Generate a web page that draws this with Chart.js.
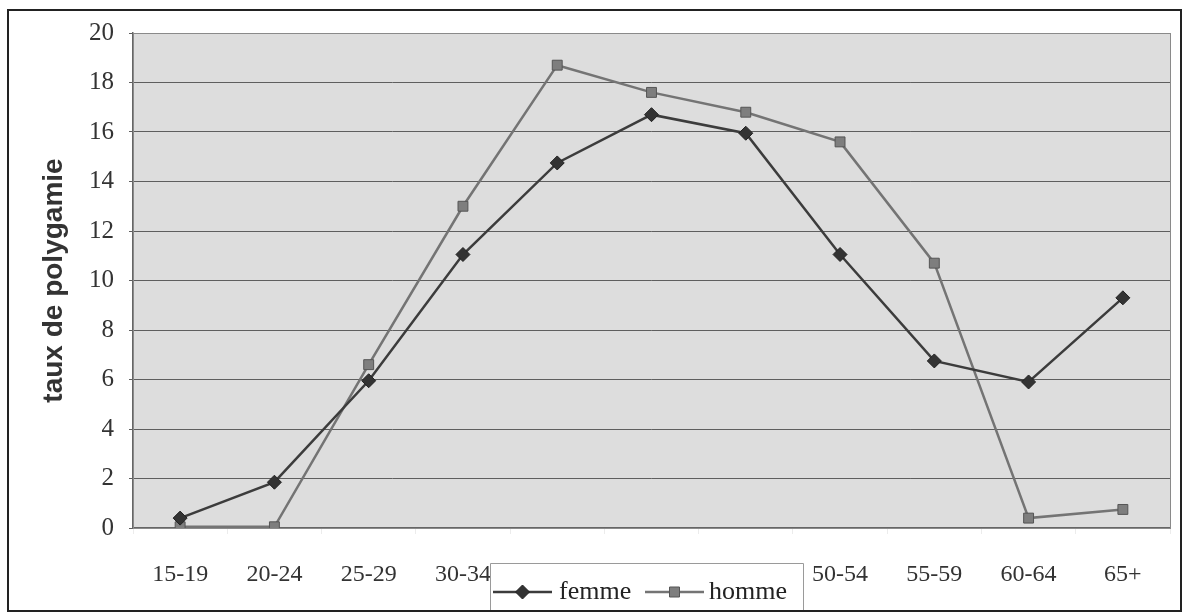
<!DOCTYPE html>
<html>
<head>
<meta charset="utf-8">
<script src="https://cdn.jsdelivr.net/npm/chart.js@4.4.1/dist/chart.umd.min.js"></script>
<style>
  body { margin: 0; background: #fff; }
  #wrap { position: relative; width: 1192px; height: 612px; }
</style>
</head>
<body>
<div id="wrap"><canvas id="lineChart"></canvas></div>
<script>
// Données du graphique
const categories = ['15-19', '20-24', '25-29', '30-34', '35-39', '40-44', '45-49', '50-54', '55-59', '60-64', '65+'];
const femme = [0.4, 1.85, 5.95, 11.05, 14.75, 16.7, 15.95, 11.05, 6.75, 5.9, 9.3];
const homme = [0.05, 0.05, 6.6, 13.0, 18.7, 17.6, 16.8, 15.6, 10.7, 0.4, 0.75];
const yTicks = [0, 2, 4, 6, 8, 10, 12, 14, 16, 18, 20];

// Fond gris de la zone de tracé + cadre
const plotBg = {
    id: 'plotBg',
    beforeDraw(chart) {
        const { ctx, chartArea: a } = chart;
        ctx.save();
        ctx.fillStyle = '#dddddd';
        ctx.fillRect(a.left, a.top, a.right - a.left, a.bottom - a.top);
        ctx.restore();
    },
    afterDraw(chart) {
        const { ctx, chartArea: a } = chart;
        ctx.save();
        ctx.strokeStyle = '#8a8a8a';
        ctx.lineWidth = 1;
        ctx.strokeRect(a.left + 0.5, a.top + 0.5, a.right - a.left, a.bottom - a.top);
        // cadre extérieur
        ctx.strokeStyle = '#222';
        ctx.lineWidth = 2;
        ctx.strokeRect(8, 10, 1173, 601);
        ctx.restore();
    }
};

// Légende dessinée à la main (elle chevauche les étiquettes de l'axe x)
const boxLegend = {
    id: 'boxLegend',
    afterDraw(chart) {
        const { ctx } = chart;
        const x0 = 490, y0 = 563, x1 = 803;
        ctx.save();
        ctx.fillStyle = '#fff';
        ctx.fillRect(x0, y0, x1 - x0, 610 - y0);
        ctx.strokeStyle = '#9a9a9a';
        ctx.lineWidth = 1;
        ctx.beginPath();
        ctx.moveTo(x0 + 0.5, 610);
        ctx.lineTo(x0 + 0.5, y0 + 0.5);
        ctx.lineTo(x1 + 0.5, y0 + 0.5);
        ctx.lineTo(x1 + 0.5, 610);
        ctx.stroke();

        const yMid = 592;
        const items = [{ ds: chart.data.datasets[0], lx: 493, tx: 559 }, { ds: chart.data.datasets[1], lx: 645, tx: 709 }];
        items.forEach(it => {
            ctx.strokeStyle = it.ds.borderColor;
            ctx.lineWidth = 2.5;
            ctx.beginPath();
            ctx.moveTo(it.lx, yMid);
            ctx.lineTo(it.lx + 59, yMid);
            ctx.stroke();
            const cx = it.lx + 29.5;
            ctx.fillStyle = it.ds.pointBackgroundColor;
            ctx.strokeStyle = it.ds.pointBorderColor;
            ctx.lineWidth = 1;
            ctx.beginPath();
            if (it.ds.pointStyle === 'rectRot') {
                ctx.moveTo(cx, yMid - 7);
                ctx.lineTo(cx + 7, yMid);
                ctx.lineTo(cx, yMid + 7);
                ctx.lineTo(cx - 7, yMid);
                ctx.closePath();
            } else {
                ctx.rect(cx - 5, yMid - 5, 10, 10);
            }
            ctx.fill();
            ctx.stroke();
            ctx.fillStyle = '#222';
            ctx.font = '26px "Liberation Serif", serif';
            ctx.textBaseline = 'middle';
            ctx.textAlign = 'left';
            ctx.fillText(it.ds.label, it.tx, yMid);
        });
        ctx.restore();
    }
};

const ctx = document.getElementById('lineChart').getContext('2d');
new Chart(ctx, {
    type: 'line',
    data: {
        labels: categories,
        datasets: [
            {
                label: 'femme',
                data: femme,
                borderColor: '#3c3c3c',
                borderWidth: 2.5,
                pointStyle: 'rectRot',
                pointRadius: 7,
                pointBackgroundColor: '#333333',
                pointBorderColor: '#222222',
                pointBorderWidth: 1,
                tension: 0
            },
            {
                label: 'homme',
                data: homme,
                borderColor: '#747474',
                borderWidth: 2.5,
                pointStyle: 'rect',
                pointRadius: 7,
                pointBackgroundColor: '#7e7e7e',
                pointBorderColor: '#555555',
                pointBorderWidth: 1,
                tension: 0
            }
        ]
    },
    options: {
        responsive: true,
        maintainAspectRatio: false,
        animation: false,
        layout: { padding: { left: 0, top: 33, right: 22, bottom: 0 } },
        plugins: {
            legend: { display: false },
            tooltip: { enabled: false }
        },
        scales: {
            x: {
                offset: true,
                afterFit: s => { s.height = 84; },
                grid: {
                    offset: true,
                    drawOnChartArea: false,
                    drawTicks: true,
                    tickLength: 6,
                    color: '#ececec'
                },
                border: { display: true, color: '#666', width: 1.5 },
                ticks: {
                    color: '#333',
                    padding: 26,
                    font: { family: '"Liberation Serif", serif', size: 24 },
                    maxRotation: 0,
                    autoSkip: false
                }
            },
            y: {
                min: 0,
                max: 20,
                afterFit: s => { s.width = 133; },
                afterBuildTicks: s => { s.ticks = yTicks.map(v => ({ value: v })); },
                grid: {
                    color: '#5e5e5e',
                    lineWidth: 1,
                    drawTicks: true,
                    tickLength: 4
                },
                border: { display: true, color: '#666', width: 1.5 },
                ticks: {
                    color: '#333',
                    padding: 15,
                    font: { family: '"Liberation Serif", serif', size: 25 }
                },
                title: {
                    display: true,
                    text: 'taux de polygamie',
                    color: '#333',
                    padding: { top: 37, bottom: 0 },
                    font: { family: '"Liberation Sans", Arial, sans-serif', size: 28, weight: 'bold' }
                }
            }
        }
    },
    plugins: [plotBg, boxLegend]
});
</script>
</body>
</html>
